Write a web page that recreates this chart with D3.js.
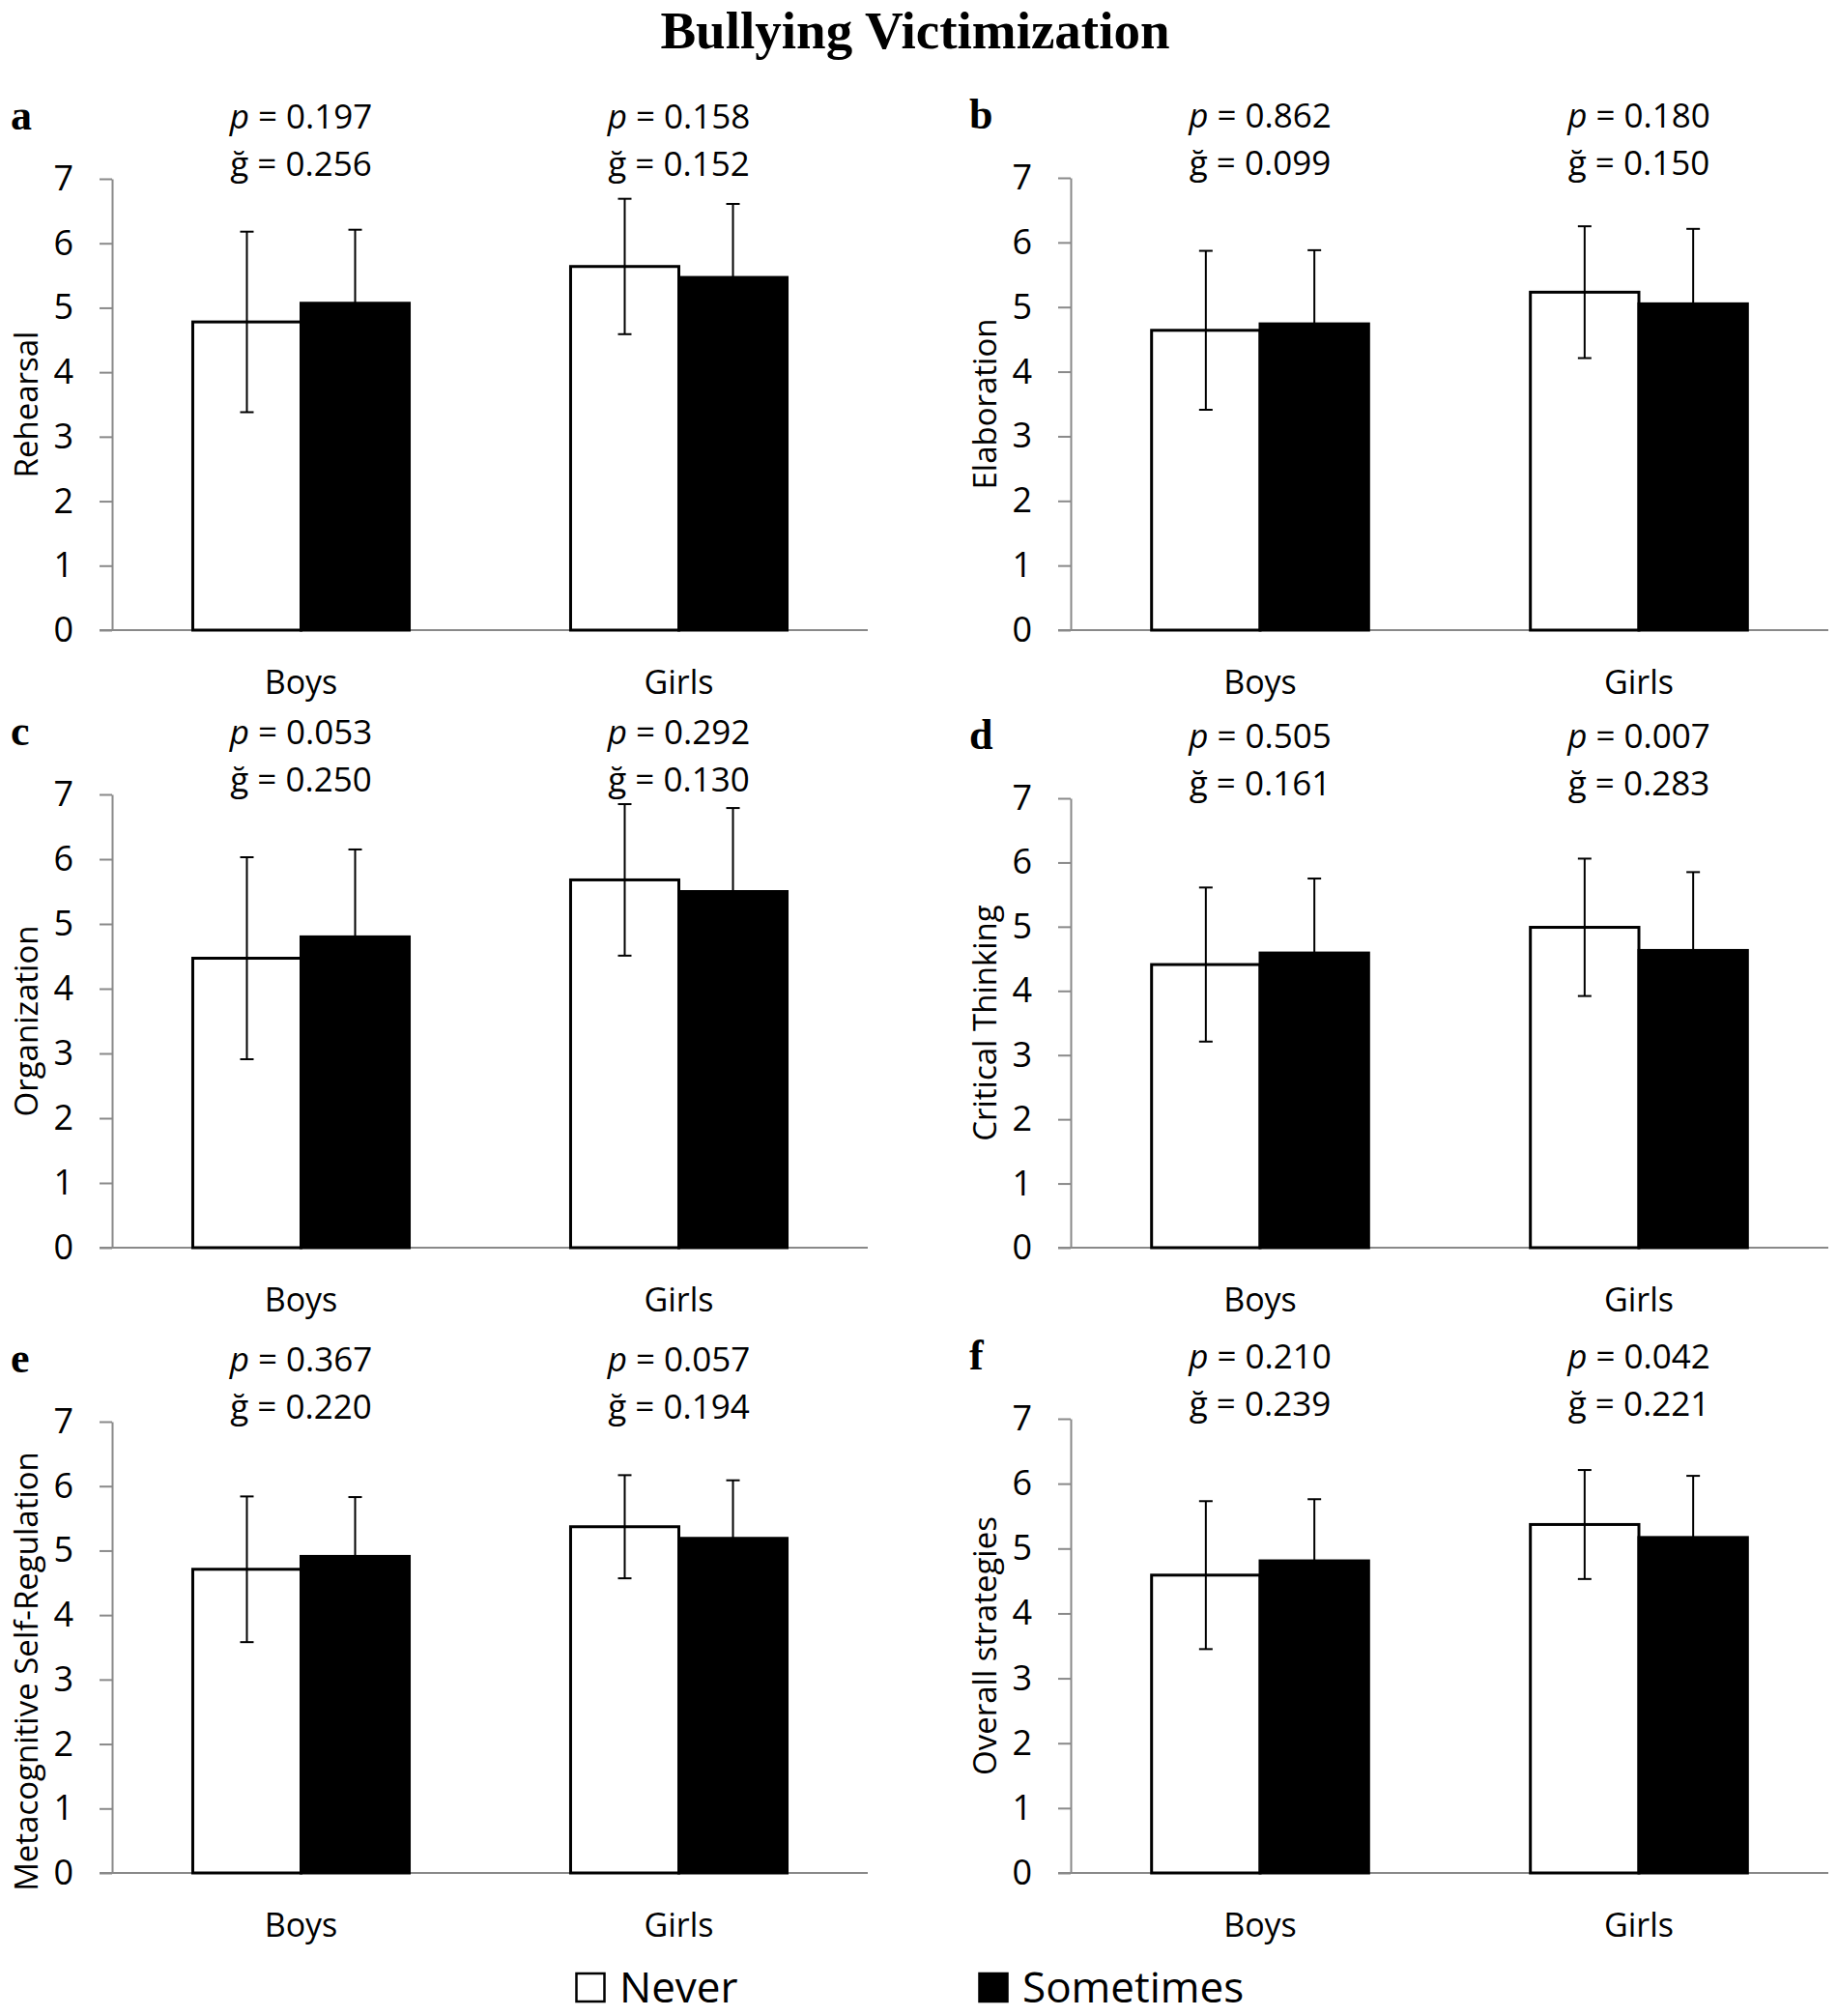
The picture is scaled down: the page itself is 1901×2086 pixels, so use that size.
<!DOCTYPE html>
<html>
<head>
<meta charset="utf-8">
<script src="https://cdn.jsdelivr.net/npm/d3@7"></script>
<style>
  body { margin: 0; background: #fff; }
  svg { display: block; }
  text { font-family: "Open Sans", sans-serif; fill: #000; }
</style>
</head>
<body>
<svg id="chart" width="1901" height="2086"></svg>
<script>
// data
var categories = ["Boys", "Girls"];
var seriesNames = ["Never", "Sometimes"];
var yTicks = [0, 1, 2, 3, 4, 5, 6, 7];
var panelLetters = ["a", "b", "c", "d", "e", "f"];
var yLabels = ["Rehearsal", "Elaboration", "Organization", "Critical Thinking",
               "Metacognitive Self-Regulation", "Overall strategies"];
var pValues = [["0.197", "0.158"], ["0.862", "0.180"], ["0.053", "0.292"],
               ["0.505", "0.007"], ["0.367", "0.057"], ["0.210", "0.042"]];
var gValues = [["0.256", "0.152"], ["0.099", "0.150"], ["0.250", "0.130"],
               ["0.161", "0.283"], ["0.220", "0.194"], ["0.239", "0.221"]];
var neverMeans = [[4.78, 5.64], [4.64, 5.23], [4.47, 5.68], [4.41, 4.99], [4.71, 5.37], [4.59, 5.37]];
var neverSD = [[1.40, 1.05], [1.23, 1.02], [1.56, 1.17], [1.20, 1.07], [1.13, 0.80], [1.14, 0.84]];
var sometimesMeans = [[5.07, 5.47], [4.74, 5.05], [4.80, 5.50], [4.59, 4.63], [4.91, 5.19], [4.81, 5.17]];
var sometimesSD = [[1.14, 1.14], [1.14, 1.16], [1.35, 1.29], [1.16, 1.22], [0.92, 0.90], [0.95, 0.95]];

// panel placement on the page
var layout = [
    {left: 116, right: 898, top: 185, bottom: 652, labelShift: 0},
    {left: 1108, right: 1892, top: 184, bottom: 652, labelShift: 0},
    {left: 116, right: 898, top: 822, bottom: 1291, labelShift: 0},
    {left: 1108, right: 1892, top: 826, bottom: 1291, labelShift: 0},
    {left: 116, right: 898, top: 1471, bottom: 1938, labelShift: 25},
    {left: 1108, right: 1892, top: 1468, bottom: 1938, labelShift: 0}
];

var axisColor = "#898989";
var svg = d3.select("#chart");

svg.append("text")
    .attr("x", 947)
    .attr("y", 50)
    .attr("text-anchor", "middle")
    .style("font-family", "'Liberation Serif', 'Times New Roman', serif")
    .style("font-weight", "bold")
    .style("font-size", "55px")
    .text("Bullying Victimization");

function drawPanel(i) {
    var box = layout[i],
        w = box.right - box.left,
        h = box.bottom - box.top;

    var g = svg.append("g")
        .attr("transform", "translate(" + box.left + "," + box.top + ")");

    var x0 = d3.scaleBand()
        .domain(categories)
        .range([0, w])
        .paddingInner(0.427)
        .paddingOuter(0.2135);
    var x1 = d3.scaleBand()
        .domain(seriesNames)
        .range([0, x0.bandwidth()]);
    var y = d3.scaleLinear()
        .domain([0, 7])
        .range([h, 0]);

    // y axis
    var yAxis = g.append("g")
        .call(d3.axisLeft(y).tickValues(yTicks).tickFormat(d3.format("d"))
            .tickSize(13).tickPadding(27).tickSizeOuter(0));
    yAxis.selectAll("path, line").attr("stroke", axisColor).attr("stroke-width", 2);
    yAxis.selectAll("text")
        .style("font-family", "'Open Sans', sans-serif")
        .style("font-size", "36px")
        .attr("fill", "#000");

    // category axis
    var xAxis = g.append("g")
        .attr("transform", "translate(0," + h + ")")
        .call(d3.axisBottom(x0).tickSize(0).tickPadding(42));
    xAxis.select(".domain").remove();
    xAxis.selectAll("text")
        .style("font-family", "'Open Sans', sans-serif")
        .style("font-size", "34px")
        .attr("fill", "#000");
    g.append("line")
        .attr("x1", -13).attr("x2", w)
        .attr("y1", h).attr("y2", h)
        .attr("stroke", axisColor)
        .attr("stroke-width", 2);

    var rows = [];
    categories.forEach(function(c, j) {
        rows.push({cat: c, series: "Never", mean: neverMeans[i][j], sd: neverSD[i][j]});
        rows.push({cat: c, series: "Sometimes", mean: sometimesMeans[i][j], sd: sometimesSD[i][j]});
    });

    g.selectAll("rect.bar")
        .data(rows)
        .enter().append("rect")
        .attr("class", "bar")
        .attr("x", function(d) { return x0(d.cat) + x1(d.series); })
        .attr("y", function(d) { return y(d.mean); })
        .attr("width", x1.bandwidth())
        .attr("height", function(d) { return h - y(d.mean); })
        .attr("fill", function(d) { return d.series == "Never" ? "#fff" : "#000"; })
        .attr("stroke", "#000")
        .attr("stroke-width", 3);

    var err = g.selectAll("g.err")
        .data(rows)
        .enter().append("g")
        .attr("class", "err")
        .attr("transform", function(d) {
            return "translate(" + (x0(d.cat) + x1(d.series) + x1.bandwidth() / 2) + ",0)";
        })
        .attr("stroke", "#000")
        .attr("stroke-width", 2);
    err.append("line")
        .attr("y1", function(d) { return y(d.mean - d.sd); })
        .attr("y2", function(d) { return y(d.mean + d.sd); });
    err.append("line")
        .attr("x1", -7).attr("x2", 7)
        .attr("y1", function(d) { return y(d.mean + d.sd); })
        .attr("y2", function(d) { return y(d.mean + d.sd); });
    err.append("line")
        .attr("x1", -7).attr("x2", 7)
        .attr("y1", function(d) { return y(d.mean - d.sd); })
        .attr("y2", function(d) { return y(d.mean - d.sd); });

    // p and g above each group
    categories.forEach(function(c, j) {
        var cx = x0(c) + x0.bandwidth() / 2;
        var pt = g.append("text")
            .attr("x", cx).attr("y", -52)
            .attr("text-anchor", "middle")
            .style("font-size", "35px");
        pt.append("tspan").style("font-style", "italic").text("p");
        pt.append("tspan").text(" = " + pValues[i][j]);
        g.append("text")
            .attr("x", cx).attr("y", -3)
            .attr("text-anchor", "middle")
            .style("font-size", "35px")
            .text("ğ = " + gValues[i][j]);
    });

    // panel letter
    g.append("text")
        .attr("x", -105)
        .attr("y", -51)
        .style("font-family", "'Liberation Serif', 'Times New Roman', serif")
        .style("font-weight", "bold")
        .style("font-size", "44px")
        .text(panelLetters[i]);

    // y label
    g.append("text")
        .attr("transform", "translate(-89," + (h / 2 + box.labelShift) + ") rotate(-90)")
        .attr("text-anchor", "middle")
        .attr("dy", "0.35em")
        .style("font-size", "33px")
        .text(yLabels[i]);
}

for (var i = 0; i < layout.length; i++) drawPanel(i);

// legend
var legend = svg.append("g").attr("transform", "translate(0,2072)");
var legendX = [595, 1012];
seriesNames.forEach(function(s, k) {
    legend.append("rect")
        .attr("x", legendX[k] + 1.5).attr("y", -30)
        .attr("width", 29).attr("height", 29)
        .attr("fill", s == "Never" ? "#fff" : "#000")
        .attr("stroke", "#000")
        .attr("stroke-width", 2.5);
    legend.append("text")
        .attr("x", legendX[k] + 46)
        .attr("y", 0)
        .style("font-size", "44px")
        .text(s);
});
</script>
</body>
</html>
